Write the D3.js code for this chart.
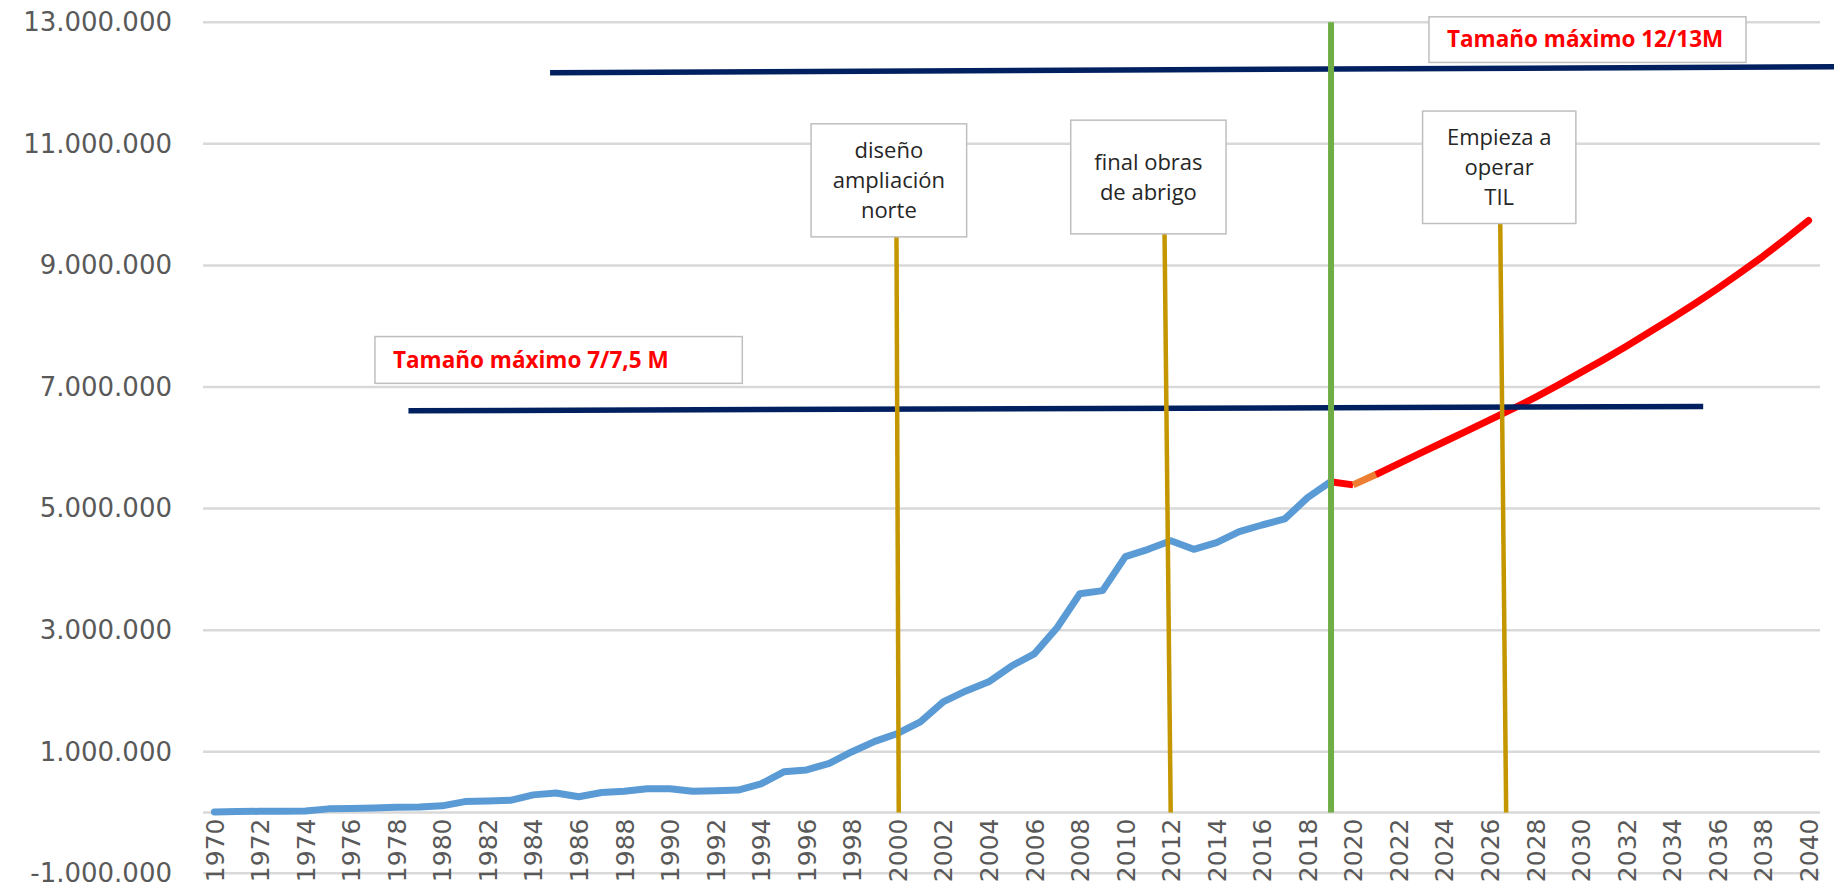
<!DOCTYPE html>
<html><head><meta charset="utf-8">
<script src="https://cdn.jsdelivr.net/npm/d3@7"></script>
<style>html,body{margin:0;padding:0;background:#fff;overflow:hidden}</style>
</head><body>
<svg id="chart" width="1834" height="893"></svg>
<script>
// ---------- data ----------
const years = d3.range(1970, 2041);
const yearTicks = d3.range(1970, 2041, 2);
const valueTicks = [-1000000, 1000000, 3000000, 5000000, 7000000, 9000000, 11000000, 13000000];

const historicYears = d3.range(1970, 2020);
const historicValues = [
  10000, 15000, 20000, 20000, 25000, 60000, 65000, 75000, 85000, 90000,
  110000, 180000, 190000, 200000, 290000, 320000, 260000, 330000, 350000, 390000,
  390000, 350000, 360000, 370000, 470000, 670000, 700000, 810000, 1000000, 1170000,
  1300000, 1490000, 1820000, 2000000, 2150000, 2410000, 2610000, 3040000, 3600000, 3650000,
  4210000, 4330000, 4470000, 4330000, 4440000, 4620000, 4730000, 4830000, 5180000, 5440000
];

const forecastYears = d3.range(2019, 2041);
const forecastValues = [
  5440000, 5390000, 5560000, 5740000, 5920000, 6100000, 6280000, 6460000, 6640000, 6830000,
  7030000, 7240000, 7450000, 7670000, 7900000, 8130000, 8370000, 8620000, 8880000, 9150000,
  9440000, 9740000
];

// horizontal "max size" lines (year from, year to, value at start, value at end)
const capacityFrom   = [1978.52, 1984.74];
const capacityTo     = [2035.37, 2041.2];
const capacityStart  = [6610000, 12170000];
const capacityEnd    = [6680000, 12270000];
const capacityLabels = ["Tamaño máximo 7/7,5 M", "Tamaño máximo 12/13M"];
const capacityBoxYears  = [[1977.05, 1993.18], [2023.33, 2037.25]];
const capacityBoxValues = [[7830000, 7060000], [13090000, 12340000]];

// milestone vertical lines
const eventTopYears    = [1999.95, 2011.72, 2026.46];
const eventBottomYears = [2000.05, 2011.99, 2026.72];
const eventLabels = [["diseño", "ampliación", "norte"], ["final obras", "de abrigo"], ["Empieza a", "operar", "TIL"]];
const eventBoxYears  = [[1996.20, 2003.03], [2007.60, 2014.42], [2023.05, 2029.78]];
const eventBoxValues = [[11330000, 9470000], [11390000, 9520000], [11540000, 9690000]];

const currentYear = 2019.03;

// ---------- layout ----------
const svg = d3.select("#chart");
const x = d3.scaleLinear().domain([1969.5, 2040.5]).range([203, 1820]);
const y = d3.scaleLinear().domain([-1000000, 13000000]).range([873.3, 22.3]);

const fmt = d3.formatLocale({decimal: ",", thousands: ".", grouping: [3], currency: ["", "€"], minus: "-"}).format(",d");

// gridlines
svg.append("g").selectAll("line").data(valueTicks.concat([0])).join("line")
  .attr("x1", x.range()[0]).attr("x2", x.range()[1])
  .attr("y1", d => y(d)).attr("y2", d => y(d))
  .attr("stroke", "#D9D9D9").attr("stroke-width", 2.5);

// y axis labels
const yAxis = svg.append("g").attr("transform", `translate(${x.range()[0]},0)`)
  .call(d3.axisLeft(y).tickValues(valueTicks).tickFormat(fmt).tickSize(0).tickPadding(31));
yAxis.select(".domain").remove();
yAxis.selectAll("text").attr("font-family", "DejaVu Sans").attr("font-size", 26).attr("fill", "#595959");

// x axis labels
const xAxis = svg.append("g").attr("transform", `translate(0,${y(0)})`)
  .call(d3.axisBottom(x).tickValues(yearTicks).tickFormat(d3.format("d")).tickSize(0));
xAxis.select(".domain").remove();
xAxis.selectAll("text")
  .attr("font-family", "DejaVu Sans").attr("font-size", 25).attr("fill", "#595959")
  .attr("transform", "rotate(-90)").attr("text-anchor", "end")
  .attr("x", -6).attr("y", 0).attr("dy", "0.35em");

// series
const line = d3.line().x(d => x(d[0])).y(d => y(d[1]));
const hist = historicYears.map((yr, i) => [yr, historicValues[i]]);
const fc = forecastYears.map((yr, i) => [yr, forecastValues[i]]);
svg.append("path").datum(hist).attr("d", line).attr("fill", "none")
  .attr("stroke", "#5B9BD5").attr("stroke-width", 7).attr("stroke-linejoin", "round").attr("stroke-linecap", "round");
svg.append("path").datum(fc.slice(0, 2)).attr("d", line).attr("fill", "none")
  .attr("stroke", "#FF0000").attr("stroke-width", 7).attr("stroke-linejoin", "round");
svg.append("path").datum(fc.slice(2)).attr("d", line).attr("fill", "none")
  .attr("stroke", "#FF0000").attr("stroke-width", 7).attr("stroke-linejoin", "round").attr("stroke-linecap", "round");
svg.append("path").datum(fc.slice(1, 3)).attr("d", line).attr("fill", "none")
  .attr("stroke", "#ED7D31").attr("stroke-width", 7).attr("stroke-linejoin", "round");

// capacity lines
svg.append("g").selectAll("line").data(capacityFrom).join("line")
  .attr("x1", (d, i) => x(d)).attr("x2", (d, i) => x(capacityTo[i]))
  .attr("y1", (d, i) => y(capacityStart[i])).attr("y2", (d, i) => y(capacityEnd[i]))
  .attr("stroke", "#002060").attr("stroke-width", 5.5);

// current year line
svg.append("line")
  .attr("x1", x(currentYear)).attr("x2", x(currentYear))
  .attr("y1", y(13000000)).attr("y2", y(0))
  .attr("stroke", "#70AD47").attr("stroke-width", 6);

// milestone lines
svg.append("g").selectAll("line").data(eventTopYears).join("line")
  .attr("x1", d => x(d)).attr("x2", (d, i) => x(eventBottomYears[i]))
  .attr("y1", (d, i) => y(eventBoxValues[i][1])).attr("y2", y(0))
  .attr("stroke", "#C49700").attr("stroke-width", 4.5);

// milestone boxes
eventLabels.forEach((lines, i) => {
  const x0 = x(eventBoxYears[i][0]), x1 = x(eventBoxYears[i][1]);
  const y0 = y(eventBoxValues[i][0]), y1 = y(eventBoxValues[i][1]);
  svg.append("rect").attr("x", x0).attr("y", y0).attr("width", x1 - x0).attr("height", y1 - y0)
    .attr("fill", "#fff").attr("stroke", "#BFBFBF").attr("stroke-width", 1.5);
  const cy = (y0 + y1) / 2, lh = 30;
  svg.append("g").selectAll("text").data(lines).join("text")
    .attr("x", (x0 + x1) / 2)
    .attr("y", (d, j) => cy + (j - (lines.length - 1) / 2) * lh)
    .attr("dy", "0.35em")
    .attr("text-anchor", "middle")
    .attr("font-family", "Open Sans").attr("font-size", 22).attr("fill", "#262626")
    .text(d => d);
});

// capacity boxes
capacityLabels.forEach((label, i) => {
  const x0 = x(capacityBoxYears[i][0]), x1 = x(capacityBoxYears[i][1]);
  const y0 = y(capacityBoxValues[i][0]), y1 = y(capacityBoxValues[i][1]);
  svg.append("rect").attr("x", x0).attr("y", y0).attr("width", x1 - x0).attr("height", y1 - y0)
    .attr("fill", "#fff").attr("stroke", "#BFBFBF").attr("stroke-width", 1.5);
  svg.append("text").attr("x", x0 + 18).attr("y", (y0 + y1) / 2).attr("dy", "0.35em")
    .attr("font-family", "Open Sans").attr("font-weight", "bold").attr("font-size", 22.5).attr("fill", "#FF0000")
    .text(label);
});
</script>
</body></html>
